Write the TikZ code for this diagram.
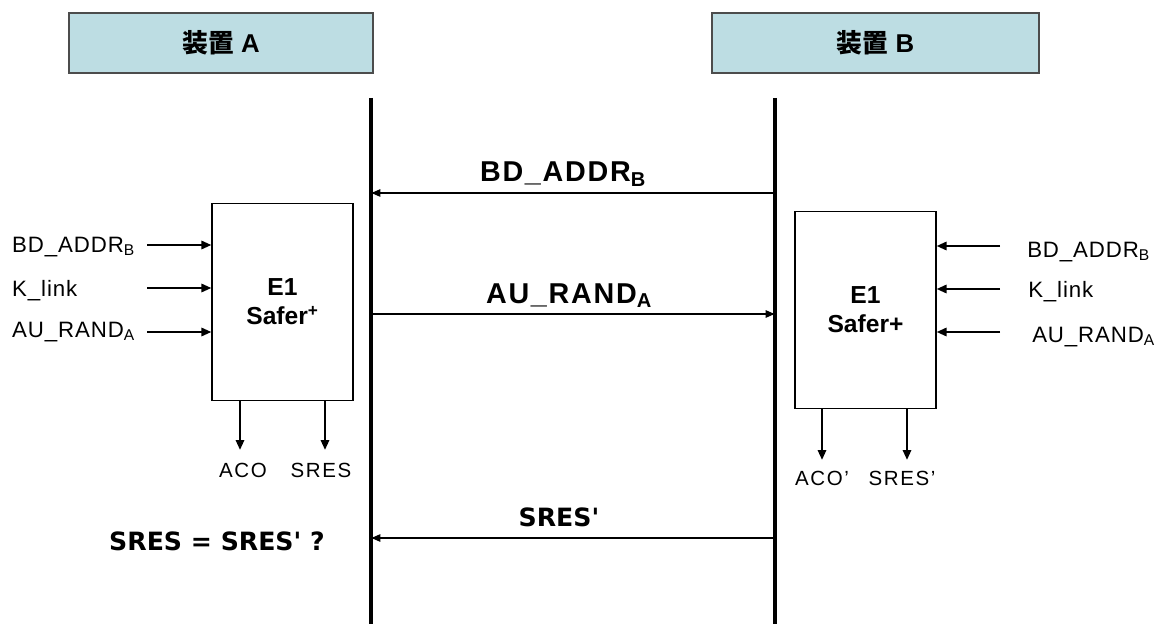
\documentclass[tikz,border=0pt]{standalone}
\usepackage{fontspec}
\setmainfont{Liberation Sans}
\newfontfamily\cjkfont{Noto Sans CJK JP}
\newfontfamily\dvfont{DejaVu Sans}
\usetikzlibrary{arrows.meta,positioning}
\definecolor{headblue}{HTML}{BDDDE3}

\begin{document}
\begin{tikzpicture}[
  x=0.03cm, y=-0.03cm,
  head/.style={draw=black!70, line width=1.2pt, fill=headblue, minimum height=1.8cm,
    inner sep=0pt, font=\fontsize{22pt}{26pt}\selectfont\bfseries},
  engine/.style={draw, line width=1pt, inner sep=0pt, minimum width=4.23cm,
    minimum height=5.93cm, align=center, font=\fontsize{21pt}{25pt}\selectfont\bfseries},
  life/.style={line width=3.4pt},
  msg/.style={line width=2pt, -{Triangle[length=8pt,width=6pt]}},
  feed/.style={line width=2pt, -{Triangle[length=8.5pt,width=7pt]}},
  msglabel/.style={anchor=base, inner sep=0pt,
    font=\fontsize{24.5pt}{28pt}\selectfont\bfseries\addfontfeatures{LetterSpace=6}},
  inlabel/.style={anchor=base west, inner sep=0pt,
    font=\fontsize{19pt}{22pt}\selectfont\addfontfeatures{LetterSpace=4}},
  outlabel/.style={anchor=base, inner sep=0pt,
    font=\fontsize{17.5pt}{20pt}\selectfont\addfontfeatures{LetterSpace=8}},
  plainlabel/.style={anchor=base, inner sep=0pt, font=\dvfont\fontsize{21.5pt}{25pt}\selectfont\bfseries},
]
\useasboundingbox (0,0) rectangle (1156,624);

% device headers
\node[head, minimum width=9.12cm] (devA) at (221,43) {{\cjkfont\bfseries 装置} A};
\node[head, minimum width=9.81cm] (devB) at (875.5,43) {{\cjkfont\bfseries 装置} B};

% lifelines
\coordinate (aTop) at (371,98);
\coordinate (aBot) at (371,624);
\coordinate (bTop) at (775,98);
\coordinate (bBot) at (775,624);
\draw[life] (aTop) -- (aBot);
\draw[life] (bTop) -- (bBot);

% messages
\coordinate (m1) at (775,193);
\coordinate (m2) at (373,314);
\coordinate (m3) at (775,538);
\draw[msg] (m1) -- (m1 -| aTop);
\draw[msg] (m2) -- (m2 -| bTop);
\draw[msg] (m3) -- (m3 -| aTop);
\node[msglabel] (l1) at (563,182) {BD\_ADDR\textsubscript{B}};
\node[msglabel] (l2) at (569,303) {AU\_RAND\textsubscript{A}};
\node[plainlabel] (l3) at (559,526) {SRES'};
\node[plainlabel] (check) at (217,550) {SRES = SRES' ?};

% E1 at device A
\node[engine] (e1A) at (282.5,302) {E1\\Safer\textsuperscript{+}};
\node[inlabel] (inA1) at (12,252) {BD\_ADDR\textsubscript{B}};
\node[inlabel] (inA2) at (12,296) {K\_link};
\node[inlabel] (inA3) at (12,337) {AU\_RAND\textsubscript{A}};
\foreach \y [count=\i] in {245,288,332} {
  \coordinate (fa\i) at (147,\y);
  \draw[feed] (fa\i) -- (fa\i -| e1A.west);
}
\coordinate (oa1) at (240,450);
\coordinate (oa2) at (325,450);
\draw[feed] (oa1 |- e1A.south) -- (oa1);
\draw[feed] (oa2 |- e1A.south) -- (oa2);
\node[outlabel] (aco) at (243,477) {ACO};
\node[outlabel] (sres) at (321,477) {SRES};

% E1 at device B
\node[engine] (e1B) at (865.5,310) {E1\\Safer+};
\node[inlabel] (inB1) at (1027,257) {BD\_ADDR\textsubscript{B}};
\node[inlabel] (inB2) at (1028,297) {K\_link};
\node[inlabel] (inB3) at (1032,342) {AU\_RAND\textsubscript{A}};
\foreach \y [count=\i] in {246,289,332} {
  \coordinate (fb\i) at (1000,\y);
  \draw[feed] (fb\i) -- (fb\i -| e1B.east);
}
\coordinate (ob1) at (822,460);
\coordinate (ob2) at (907,460);
\draw[feed] (ob1 |- e1B.south) -- (ob1);
\draw[feed] (ob2 |- e1B.south) -- (ob2);
\node[outlabel] (acoB) at (822,485) {ACO'};
\node[outlabel] (sresB) at (902,485) {SRES'};

\end{tikzpicture}
\end{document}
